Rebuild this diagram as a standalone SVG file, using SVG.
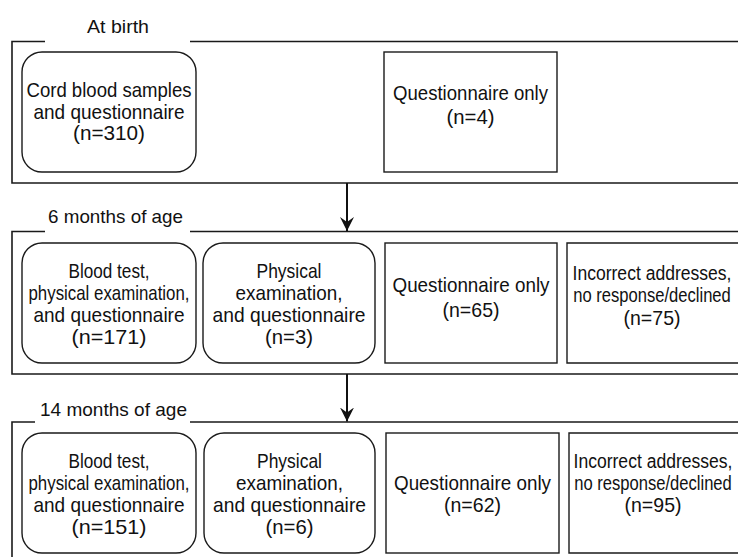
<svg xmlns="http://www.w3.org/2000/svg" width="738" height="557" viewBox="0 0 738 557">
  <style>
    .frame { fill: none; stroke: #1a1a1a; stroke-width: 1.6; }
    .box { fill: #ffffff; stroke: #1a1a1a; stroke-width: 1.4; }
    .open { fill: none; stroke: #1a1a1a; stroke-width: 1.4; }
    .t { font-family: "Liberation Sans", Arial, sans-serif; font-size: 21px; fill: #111111; text-anchor: middle; }
    .h { font-family: "Liberation Sans", Arial, sans-serif; font-size: 19px; fill: #111111; text-anchor: middle; }
    .conn { stroke: #111111; stroke-width: 2; fill: none; }
  </style>
  <defs>
    <marker id="arrow" markerUnits="userSpaceOnUse" markerWidth="16" markerHeight="16" viewBox="0 -8 16 16" refX="14" refY="0" orient="auto">
      <path d="M14,0 L0,-7 L5,0 L0,7 Z" fill="#111111"/>
    </marker>
  </defs>
  <rect x="0" y="0" width="738" height="557" fill="#ffffff"/>

  <!-- Stage frames -->
  <g id="stage-birth">
    <path class="frame" d="M45,41.5 H12 V183 H738 M190,41.5 H738"/>
    <text class="h" x="118" y="33" textLength="62" lengthAdjust="spacingAndGlyphs">At birth</text>
  </g>
  <g id="stage-6months">
    <path class="frame" d="M45,231.5 H12 V374 H738 M190,231.5 H738"/>
    <text class="h" x="115.5" y="223" textLength="135" lengthAdjust="spacingAndGlyphs">6 months of age</text>
  </g>
  <g id="stage-14months">
    <path class="frame" d="M35,422 H12 V557 M190,422 H738"/>
    <text class="h" x="113.5" y="416" textLength="147" lengthAdjust="spacingAndGlyphs">14 months of age</text>
  </g>

  <!-- Connectors -->
  <g id="connectors">
    <line class="conn" x1="347" y1="183" x2="347" y2="231" marker-end="url(#arrow)"/>
    <line class="conn" x1="347" y1="374" x2="347" y2="421.5" marker-end="url(#arrow)"/>
  </g>

  <!-- At birth -->
  <g id="birth-cord-blood">
    <rect class="box" x="22" y="52" width="174" height="120" rx="20" ry="20"/>
    <text class="t" x="109" y="97" textLength="165" lengthAdjust="spacingAndGlyphs">Cord blood samples</text>
    <text class="t" x="109" y="119" textLength="151" lengthAdjust="spacingAndGlyphs">and questionnaire</text>
    <text class="t" x="109" y="140" textLength="72" lengthAdjust="spacingAndGlyphs">(n=310)</text>
  </g>
  <g id="birth-questionnaire-only">
    <rect class="box" x="384" y="52" width="173" height="120"/>
    <text class="t" x="470.5" y="100" textLength="155" lengthAdjust="spacingAndGlyphs">Questionnaire only</text>
    <text class="t" x="470.5" y="124" textLength="48" lengthAdjust="spacingAndGlyphs">(n=4)</text>
  </g>

  <!-- 6 months -->
  <g id="m6-blood-test">
    <rect class="box" x="22" y="243" width="174" height="120" rx="20" ry="20"/>
    <text class="t" x="109" y="278" textLength="81" lengthAdjust="spacingAndGlyphs">Blood test,</text>
    <text class="t" x="109" y="300" textLength="161" lengthAdjust="spacingAndGlyphs">physical examination,</text>
    <text class="t" x="109" y="322" textLength="151" lengthAdjust="spacingAndGlyphs">and questionnaire</text>
    <text class="t" x="109" y="344" textLength="75" lengthAdjust="spacingAndGlyphs">(n=171)</text>
  </g>
  <g id="m6-physical">
    <rect class="box" x="203" y="243" width="172" height="120" rx="20" ry="20"/>
    <text class="t" x="289" y="278" textLength="65" lengthAdjust="spacingAndGlyphs">Physical</text>
    <text class="t" x="289" y="300" textLength="107" lengthAdjust="spacingAndGlyphs">examination,</text>
    <text class="t" x="289" y="322" textLength="153" lengthAdjust="spacingAndGlyphs">and questionnaire</text>
    <text class="t" x="289" y="344" textLength="48" lengthAdjust="spacingAndGlyphs">(n=3)</text>
  </g>
  <g id="m6-questionnaire-only">
    <rect class="box" x="385" y="243" width="172" height="120"/>
    <text class="t" x="471" y="292" textLength="157" lengthAdjust="spacingAndGlyphs">Questionnaire only</text>
    <text class="t" x="471" y="317" textLength="57" lengthAdjust="spacingAndGlyphs">(n=65)</text>
  </g>
  <g id="m6-incorrect">
    <path class="open" d="M738,243 H567 V363 H738"/>
    <text class="t" transform="translate(652 280) scale(0.836 1)">Incorrect addresses,</text>
    <text class="t" transform="translate(652 302) scale(0.79 1)">no response/declined</text>
    <text class="t" x="652" y="325" textLength="57" lengthAdjust="spacingAndGlyphs">(n=75)</text>
  </g>

  <!-- 14 months -->
  <g id="m14-blood-test">
    <rect class="box" x="22" y="433" width="174" height="120" rx="20" ry="20"/>
    <text class="t" x="109" y="468" textLength="81" lengthAdjust="spacingAndGlyphs">Blood test,</text>
    <text class="t" x="109" y="490" textLength="161" lengthAdjust="spacingAndGlyphs">physical examination,</text>
    <text class="t" x="109" y="512" textLength="151" lengthAdjust="spacingAndGlyphs">and questionnaire</text>
    <text class="t" x="109" y="534" textLength="75" lengthAdjust="spacingAndGlyphs">(n=151)</text>
  </g>
  <g id="m14-physical">
    <rect class="box" x="204" y="433" width="171" height="120" rx="20" ry="20"/>
    <text class="t" x="289.5" y="468" textLength="65" lengthAdjust="spacingAndGlyphs">Physical</text>
    <text class="t" x="289.5" y="490" textLength="107" lengthAdjust="spacingAndGlyphs">examination,</text>
    <text class="t" x="289.5" y="512" textLength="153" lengthAdjust="spacingAndGlyphs">and questionnaire</text>
    <text class="t" x="289.5" y="534" textLength="48" lengthAdjust="spacingAndGlyphs">(n=6)</text>
  </g>
  <g id="m14-questionnaire-only">
    <rect class="box" x="386" y="433" width="173" height="120"/>
    <text class="t" x="472.5" y="490" textLength="157" lengthAdjust="spacingAndGlyphs">Questionnaire only</text>
    <text class="t" x="472.5" y="512" textLength="57" lengthAdjust="spacingAndGlyphs">(n=62)</text>
  </g>
  <g id="m14-incorrect">
    <path class="open" d="M738,433 H569 V553 H738"/>
    <text class="t" transform="translate(653 468) scale(0.836 1)">Incorrect addresses,</text>
    <text class="t" transform="translate(653 490) scale(0.79 1)">no response/declined</text>
    <text class="t" x="653" y="512" textLength="57" lengthAdjust="spacingAndGlyphs">(n=95)</text>
  </g>
</svg>
